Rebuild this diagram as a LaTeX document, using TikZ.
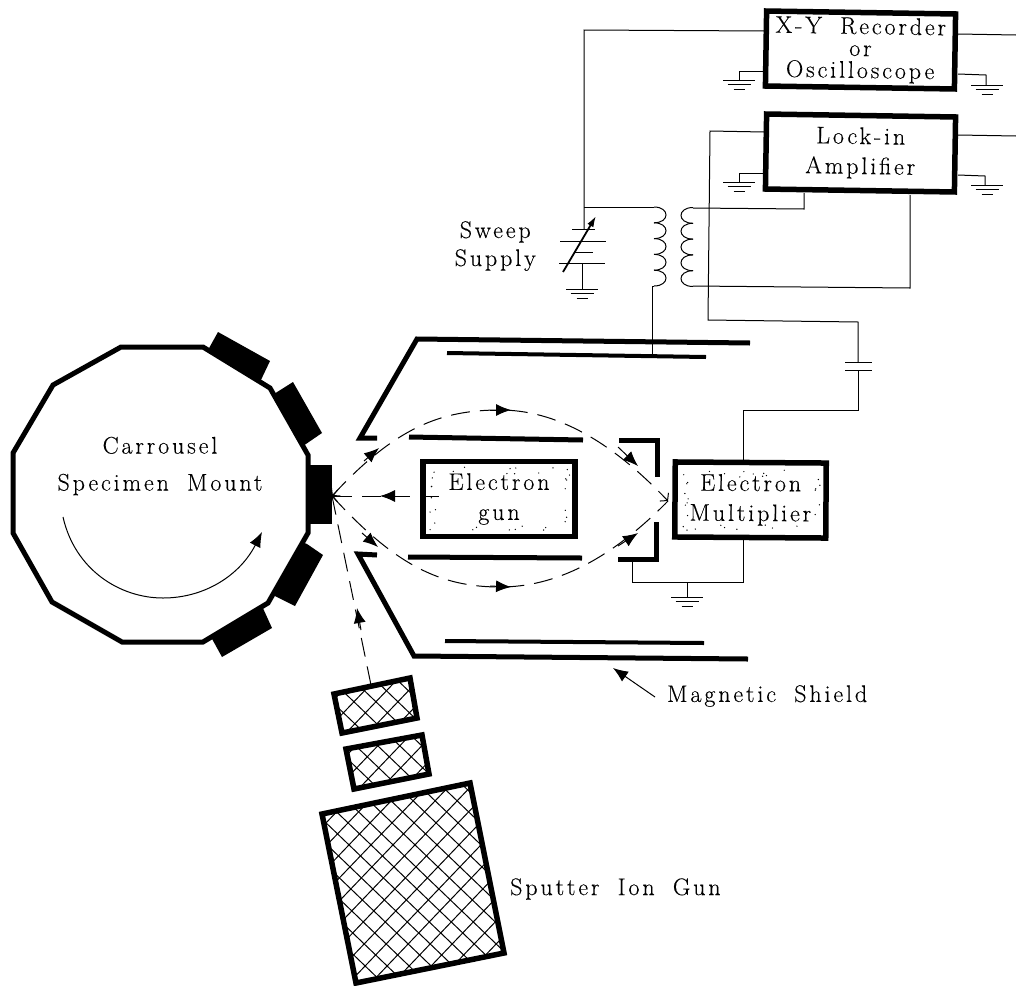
\documentclass[tikz,border=0pt]{standalone}
\usepackage{fontspec}
\setmainfont{Latin Modern Roman}[LetterSpace=12,WordSpace=1.8,FakeBold=0.25]
\usetikzlibrary{arrows.meta}
\tikzset{
  wire/.style={line width=1pt,line join=miter},
  thick line/.style={line width=5pt,line join=miter},
  plate/.style={line width=4pt},
  boxnode/.style={draw,line width=5.5pt,rectangle,inner sep=0pt,align=center,font=\fontsize{24}{30}\selectfont},
  lbl/.style={inner sep=0pt,align=center},
  beam/.style={line width=1pt,dash pattern=on 19pt off 10pt},
  head/.style={line width=1pt,-{Latex[length=15pt,width=12pt]}},
  bump/.style={line width=1pt},
  specimen/.style={fill=black,draw=none},
  hatchbox/.style={line width=5.5pt,line join=miter},
  earth/.pic={
    \draw[line width=1pt] (-16,0)--(16,0) (-11.5,4.5)--(11.5,4.5) (-5.5,9)--(5.5,9);
  }
}
\newcommand{\hatching}[1]{%
  \begin{scope}
    \clip #1;
    \foreach \k in {-40,...,40}{
      \draw[line width=1pt] ({\k*22+300},650)--({\k*22+700},1034);
      \draw[line width=1pt] ({\k*22+300},1034)--({\k*22+700},616);
    }
  \end{scope}}
\newcommand{\stipple}[4]{%
  \foreach \i in {1,...,16}{
    \pgfmathsetmacro\px{#1+rnd*(#3-#1)}
    \pgfmathsetmacro\py{rnd<.5 ? #2+rnd*7 : #4-rnd*7}
    \fill (\px,\py) circle (.7);
    \pgfmathsetmacro\qy{#2+rnd*(#4-#2)}
    \pgfmathsetmacro\qx{rnd<.5 ? #1+rnd*7 : #3-rnd*7}
    \fill (\qx,\qy) circle (.7);
  }}
\begin{document}
\begin{tikzpicture}[x=1pt,y=-1pt]
\path[use as bounding box,fill=white] (0,0) rectangle (1016,985);

% stipple
\pgfmathsetseed{11}
\stipple{430}{467}{570}{531}
\stipple{682}{470}{820}{532}

% instrument boxes
\node[boxnode,font=\fontsize{24}{22}\selectfont,minimum width=189pt,minimum height=75pt,rotate=-.9] (xy) at (860.5,50)
  {X-Y Recorder\\or\\Oscilloscope};
\node[boxnode,minimum width=189pt,minimum height=75pt,rotate=-.9] (lock) at (860.5,153)
  {Lock-in\\Amplifier};
\node[boxnode,minimum width=152pt,minimum height=75pt] (gun) at (499,499)
  {Electron\\gun};
\node[boxnode,minimum width=151pt,minimum height=75pt,rotate=-.4] (mult) at (750.5,500)
  {Electron\\Multiplier};

% labels
\node[lbl,font=\fontsize{24}{28}\selectfont,anchor=north east] (sweep) at (536,221) {Sweep\\Supply};
\node[lbl,font=\fontsize{24}{37}\selectfont] (carr) at (160,466) {Carrousel\\Specimen Mount};
\node[lbl,font=\fontsize{24}{26}\selectfont,anchor=west] (mag) at (667,696) {Magnetic Shield};
\node[lbl,font=\fontsize{24}{26}\selectfont,anchor=west] (sput) at (510,889) {Sputter Ion Gun};

% key points
\coordinate (xyL) at (764,31);
\coordinate (xyC) at (584,30);
\coordinate (battTop) at (584,229);
\coordinate (priT) at (654,207);
\coordinate (priJ) at (584,207);
\coordinate (priB) at (654,286);
\coordinate (tube) at (652,355);
\coordinate (secT) at (693,208);
\coordinate (secB) at (693,286);
\coordinate (lockBL) at (804,193);
\coordinate (lockBR) at (910,195);
\coordinate (lockL) at (764,132);
\coordinate (capT) at (858,362);
\coordinate (capB) at (858,370);
\coordinate (multT) at (743,463);
\coordinate (multB) at (743,539);
\coordinate (apert) at (632,562);
\coordinate (gnd) at (687,597);
\coordinate (battB) at (582,263);
\coordinate (tgt) at (332,496);
\coordinate (coll) at (668,501);

% wiring
\draw[wire] (xyL) -- (xyC) -- (battTop);
\draw[wire] (priJ) -- (priT);
\draw[wire] (priB) -- (652,286) -- (tube);
\foreach \y in {207,222.8,238.6,254.4,270.2}{
  \draw[bump] (654,\y) .. controls (670,\y) and (670,\y+15.8) .. (654,\y+15.8);
  \draw[bump] (693,\y+.5) .. controls (677,\y+.5) and (677,\y+16.3) .. (693,\y+16.3);
}
\draw[wire] (secT) -- (804,209) -- (lockBL);
\draw[wire] (secB) -- (910,288) -- (lockBR);
\draw[wire] (lockL) -- (710,131) -- (708,320) -- (858,322) -- (capT);
\draw[wire] (capB) -- (858,410) -- (743,410) -- (multT);
\draw[wire] (845,362) -- (872,362) (845,370) -- (872,370);
\draw[wire] (958,34) -- (1016,35);
\draw[wire] (958,135) -- (1016,136);
\draw[wire] (764,71) -- (739,71) -- (739,80);
\draw[wire] (958,74) -- (986,75) -- (986,85);
\draw[wire] (764,173) -- (739,173) -- (739,182);
\draw[wire] (958,175) -- (985,176) -- (985,185);
\pic at (739,80) {earth};
\pic at (987,85) {earth};
\pic at (739,182) {earth};
\pic at (987,185) {earth};

% sweep supply
\draw[wire] (572,229) -- (595,229);
\draw[wire] (560,241) -- (606,241) (575,252) -- (593,252) (559,263) -- (605,263);
\draw[wire] (battB) -- (582,289);
\pic at (582,289) {earth};
\draw[line width=1.8pt,-{Latex[length=11pt,width=7pt]}] (563,272) -- (596,216);

% shield and tube
\draw[thick line] (377,438) -- (360,438) -- (417,339) -- (750,343);
\draw[thick line] (377,555) -- (358,554) -- (414,656) -- (748,659);
\draw[plate] (447,353) -- (706,357);
\draw[plate] (445,641) -- (704,643);
\draw[thick line] (409,437) -- (583,440);
\draw[thick line] (408,557) -- (582,558);
\draw[thick line] (619,440) -- (657,440) -- (657,477);
\draw[thick line] (618,559) -- (656,559) -- (656,522);
\draw[wire] (apert) -- (632,582) -- (743,582) -- (multB);
\draw[wire] (687,582) -- (gnd);
\pic at (687,597) {earth};

% carrousel
\draw[line width=5pt,line join=miter] (121,347) -- (203,347) -- (270,388) -- (308,455) -- (308,533) -- (268,603) -- (203,642) -- (122,642) -- (52,602) -- (13,533) -- (13,453) -- (53,385) -- cycle;
\fill[specimen] (218,332) -- (270,361) -- (260,382) -- (208,350) -- cycle;
\fill[specimen] (293,382) -- (322,433) -- (303,446) -- (274,394) -- cycle;
\fill[specimen] (308,465) rectangle (332,524);
\fill[specimen] (307,544) -- (323,555) -- (295,606) -- (273,595) -- (302,542) -- cycle;
\fill[specimen] (262,606) -- (272,628) -- (222,657) -- (211,637) -- cycle;
\draw[line width=1pt,-{Latex[length=15pt,width=12pt]}] (63,517) .. controls (75,570) and (120,598) .. (163,598) .. controls (205,598) and (240,575) .. (262,532);

% beams
\draw[beam,{Straight Barb[length=5pt,width=12pt]}-{Straight Barb[length=5pt,width=12pt]}] (tgt) .. controls (395,428) and (440,410) .. (500,410) .. controls (555,410) and (610,440) .. (coll);
\draw[beam] (tgt) .. controls (395,565) and (440,587) .. (500,587) .. controls (555,587) and (610,560) .. (coll);
\draw[beam,{Straight Barb[length=5pt,width=12pt]}-] (tgt) -- (447,496);
\draw[beam] (371,685) -- (tgt);
\draw[head] (364,461) -- (379,448);
\draw[head] (490,410) -- (511,410);
\draw[head] (618,447) -- (638,466);
\draw[head] (362,533) -- (378,547);
\draw[head] (490,586) -- (511,587);
\draw[head] (618,546) -- (638,533);
\draw[head] (398,496) -- (380,496);
\draw[head] (361,630) -- (357,608);
\draw[line width=1pt,-{Latex[length=15pt,width=12pt]}] (655,697) -- (613,668);

% ion gun
\hatching{(334,694) -- (410,678) -- (417,718) -- (342,733) -- cycle}
\hatching{(346,749) -- (422,735) -- (429,774) -- (354,789) -- cycle}
\hatching{(322,814) -- (470,783) -- (504,953) -- (356,983) -- cycle}
\draw[hatchbox] (334,694) -- (410,678) -- (417,718) -- (342,733) -- cycle;
\draw[hatchbox] (346,749) -- (422,735) -- (429,774) -- (354,789) -- cycle;
\draw[hatchbox] (322,814) -- (470,783) -- (504,953) -- (356,983) -- cycle;
\end{tikzpicture}
\end{document}
